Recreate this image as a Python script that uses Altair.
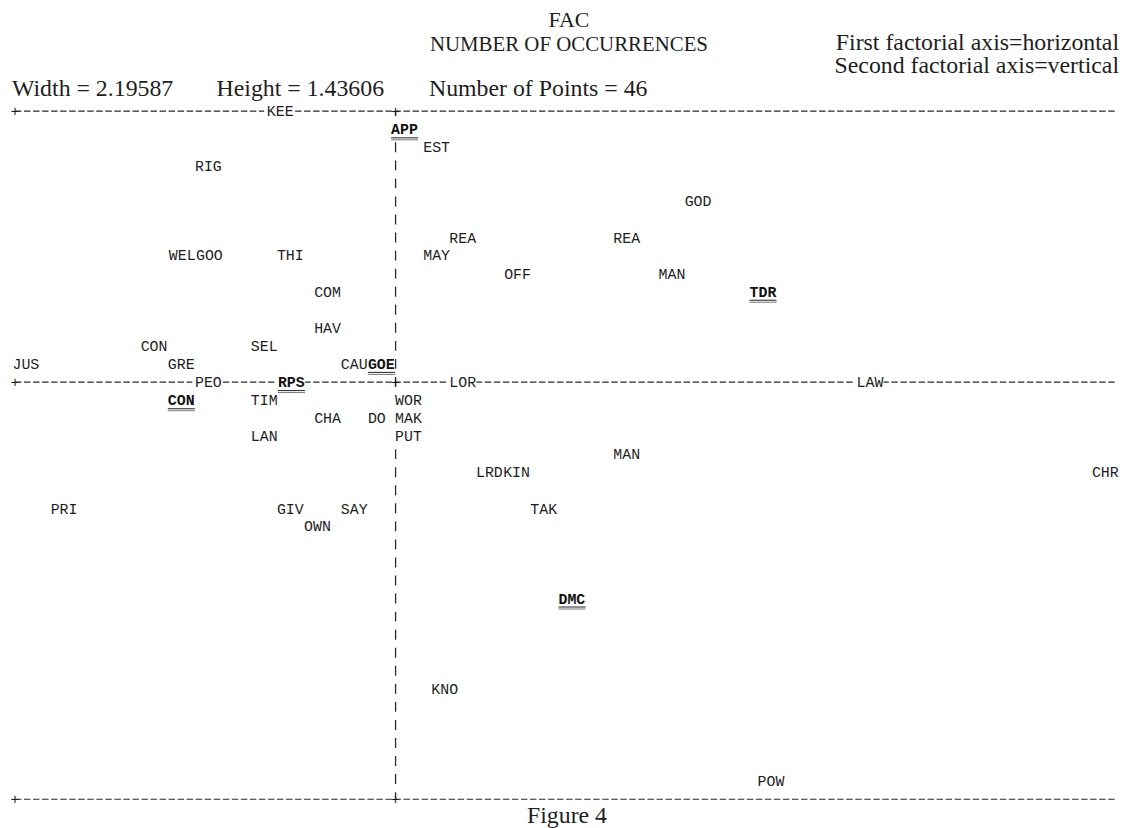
import altair as alt
import pandas as pd

# ---- data (factor coordinates; x = left edge of label) ----
labels = ["KEE", "APP", "EST", "RIG", "GOD", "REA", "REA", "WEL", "GOO", "THI",
          "MAY", "OFF", "MAN", "COM", "TDR", "HAV", "CON", "SEL", "JUS", "GRE",
          "CAU", "GOE", "PEO", "RPS", "LOR", "LAW", "CON", "TIM", "WOR", "CHA",
          "DO", "MAK", "LAN", "PUT", "MAN", "LRD", "KIN", "CHR", "PRI", "GIV",
          "SAY", "TAK", "OWN", "DMC", "KNO", "POW"]
x_vals = [-0.256, -0.009, 0.055, -0.399, 0.575, 0.107, 0.433, -0.451, -0.397, -0.236,
          0.055, 0.216, 0.523, -0.162, 0.704, -0.162, -0.507, -0.288, -0.762, -0.453,
          -0.109, -0.055, -0.399, -0.234, 0.107, 0.917, -0.453, -0.288, -0.001, -0.162,
          -0.055, -0.001, -0.288, -0.001, 0.433, 0.160, 0.214, 1.385, -0.686, -0.236,
          -0.109, 0.268, -0.182, 0.324, 0.071, 0.720]
y_vals = [0.567, 0.529, 0.491, 0.453, 0.378, 0.302, 0.302, 0.265, 0.265, 0.265,
          0.265, 0.227, 0.227, 0.189, 0.189, 0.113, 0.076, 0.076, 0.038, 0.038,
          0.038, 0.038, 0.0, 0.0, 0.0, 0.0, -0.038, -0.038, -0.038, -0.076,
          -0.076, -0.076, -0.113, -0.113, -0.151, -0.189, -0.189, -0.189, -0.265, -0.265,
          -0.265, -0.265, -0.302, -0.453, -0.642, -0.834]
bold_labels = ["APP", "TDR", "GOE", "RPS", "DMC"]
bold_index = [26]  # the lower CON is the bold one
bold_flags = [(l in bold_labels) or (i in bold_index) for i, l in enumerate(labels)]

X_DOMAIN = [-0.763, 1.433]
Y_DOMAIN = [-0.873, 0.567]
frame_y = [0.567, 0.0, -0.873]
frame_left = -0.757
CHAR_W = 0.01793
ROW_H = 0.03779

header_texts = ["FAC", "NUMBER OF OCCURRENCES",
                "First factorial axis=horizontal", "Second factorial axis=vertical",
                "Width = 2.19587", "Height = 1.43606", "Number of Points = 46", "Figure 4"]
header_px = [561, 561, 1115, 1115, 0, 206, 420, 559]
header_py = [-85, -61, -62, -38, -15, -15, -15, 717]
header_size = [22, 21, 24, 24, 24, 24, 24, 24]
header_align = ["center", "center", "right", "right", "left", "left", "left", "center"]

# ---- tables ----
df = pd.DataFrame({"label": labels, "x": x_vals, "y": y_vals, "bold": bold_flags})
df["xb"] = df["x"] - 0.3 * CHAR_W
df["x2"] = df["x"] + df["label"].str.len() * CHAR_W
df["ylo"] = df["y"] - 0.45 * ROW_H
df["yhi"] = df["y"] + 0.45 * ROW_H

xsc = alt.Scale(domain=X_DOMAIN, nice=False, zero=False)
ysc = alt.Scale(domain=Y_DOMAIN, nice=False, zero=False)
INK = "#1e1e1e"
MONO = "Liberation Mono"
SERIF = "Liberation Serif"

lines = pd.DataFrame({"y": frame_y, "x": [frame_left] * 3, "x2": [X_DOMAIN[1]] * 3})
hrules = alt.Chart(lines).mark_rule(strokeDash=[6.5, 2.6], strokeWidth=1.2, color="#2a2a2a").encode(
    x=alt.X("x:Q", scale=xsc, axis=None), x2="x2:Q",
    y=alt.Y("y:Q", scale=ysc, axis=None))

vax = pd.DataFrame({"x": [0.0], "y": [frame_y[0]], "y2": [frame_y[2]]})
vrule = alt.Chart(vax).mark_rule(strokeDash=[10, 8.18], strokeDashOffset=5, strokeWidth=1.3,
                                 color="#2a2a2a").encode(
    x=alt.X("x:Q", scale=xsc, axis=None),
    y=alt.Y("y:Q", scale=ysc, axis=None), y2="y2:Q")

boxes = alt.Chart(df).mark_rect(color="white").encode(
    x=alt.X("xb:Q", scale=xsc, axis=None), x2="x2:Q",
    y=alt.Y("ylo:Q", scale=ysc, axis=None), y2="yhi:Q")

plus = pd.DataFrame({"x": [frame_left, 0.0] * 3,
                     "y": [frame_y[0], frame_y[0], frame_y[1], frame_y[1], frame_y[2], frame_y[2]],
                     "t": ["+"] * 6})
plus_marks = alt.Chart(plus).mark_text(align="center", baseline="middle", font=MONO,
                                       fontSize=15, color=INK).encode(
    x=alt.X("x:Q", scale=xsc, axis=None), y=alt.Y("y:Q", scale=ysc, axis=None), text="t:N")

text_normal = alt.Chart(df).transform_filter("!datum.bold").mark_text(
    align="left", baseline="middle", font=MONO, fontSize=15, color=INK).encode(
    x=alt.X("x:Q", scale=xsc, axis=None), y=alt.Y("y:Q", scale=ysc, axis=None), text="label:N")

text_bold = alt.Chart(df).transform_filter("datum.bold").mark_text(
    align="left", baseline="middle", font=MONO, fontSize=15, fontWeight="bold", color="#111111").encode(
    x=alt.X("x:Q", scale=xsc, axis=None), y=alt.Y("y:Q", scale=ysc, axis=None), text="label:N")

underline1 = alt.Chart(df).transform_filter("datum.bold").mark_rule(
    yOffset=8.5, strokeWidth=1.1, color="#333333").encode(
    x=alt.X("x:Q", scale=xsc, axis=None), x2="x2:Q", y=alt.Y("y:Q", scale=ysc, axis=None))
underline2 = alt.Chart(df).transform_filter("datum.bold").mark_rule(
    yOffset=10.5, strokeWidth=0.9, color="#666666").encode(
    x=alt.X("x:Q", scale=xsc, axis=None), x2="x2:Q", y=alt.Y("y:Q", scale=ysc, axis=None))

layers = [hrules, vrule, boxes, plus_marks, text_normal, text_bold, underline1, underline2]
for t, px, py, fs, al in zip(header_texts, header_px, header_py, header_size, header_align):
    layers.append(
        alt.Chart(pd.DataFrame({"t": [t]})).mark_text(
            align=al, baseline="alphabetic", font=SERIF, fontSize=fs, color=INK).encode(
            text="t:N", x=alt.value(px), y=alt.value(py)))

chart = alt.layer(*layers).properties(
    width=1112, height=693,
    padding={"left": 4, "top": 101, "right": 5, "bottom": 26},
    autosize=alt.AutoSizeParams(type="none"),
    background="white",
).configure_view(stroke="transparent")

chart.save("out.html", embed_options={"renderer": "svg", "actions": False})
